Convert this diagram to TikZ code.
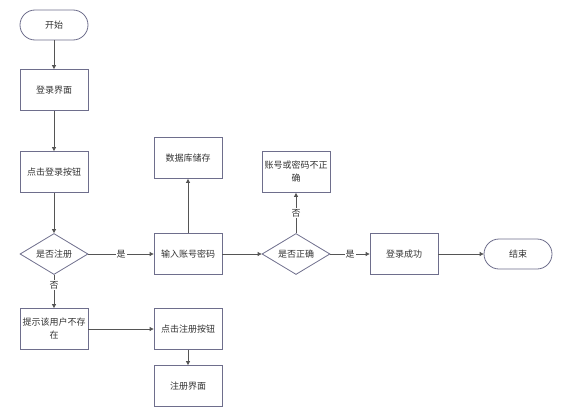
\documentclass[tikz,border=0pt]{standalone}
\usepackage{fontspec}
\newfontfamily\cjk{Noto Sans CJK SC}
\usetikzlibrary{shapes.geometric,arrows.meta}
\definecolor{bordc}{HTML}{6E6E8C}
\definecolor{linec}{HTML}{555555}
\definecolor{txtc}{HTML}{333333}
\begin{document}
\begin{tikzpicture}[x=1pt,y=-1pt,
  every node/.style={font=\cjk\fontsize{9}{13}\selectfont, text=txtc},
  proc/.style={draw=bordc, line width=0.8pt, fill=white, minimum width=68pt, minimum height=41pt, align=center, inner sep=1pt},
  term/.style={draw=bordc, line width=0.8pt, fill=white, rounded corners=15pt, minimum width=68pt, minimum height=30pt},
  dec/.style={draw=bordc, line width=0.8pt, fill=white, diamond, aspect=1.66, minimum width=68pt, minimum height=41pt, inner sep=0pt},
  conn/.style={draw=linec, line width=0.8pt, -{Triangle[length=4pt,width=4pt]}},
  lbl/.style={fill=white, inner sep=1pt}]
\useasboundingbox (0,0) rectangle (564,415);
\node[term] (start) at (54,25) {开始};
\node[proc] (login) at (54,90) {登录界面};
\node[proc] (click) at (54,172) {点击登录按钮};
\node[dec] (isreg) at (54,254) {是否注册};
\node[proc] (nouser) at (54,329) {提示该用户不存\\在};
\node[proc] (input) at (188,254) {输入账号密码};
\node[proc] (db) at (188,158) {数据库储存};
\node[proc] (regbtn) at (188,329) {点击注册按钮};
\node[proc] (regui) at (188,386) {注册界面};
\node[dec] (ok) at (296,254) {是否正确};
\node[proc] (wrong) at (296,172) {账号或密码不正\\确};
\node[proc] (succ) at (404,254) {登录成功};
\node[term] (end) at (518,254) {结束};
\draw[conn] (start) -- (login);
\draw[conn] (login) -- (click);
\draw[conn] (click) -- (isreg);
\draw[conn] (isreg) -- node[lbl]{是} (input);
\draw[conn] (isreg) -- node[lbl, pos=0.3]{否} (nouser);
\draw[conn] (nouser) -- (regbtn);
\draw[conn] (regbtn) -- (regui);
\draw[conn] (input) -- (db);
\draw[conn] (input) -- (ok);
\draw[conn] (ok) -- node[lbl]{否} (wrong);
\draw[conn] (ok) -- node[lbl]{是} (succ);
\draw[conn] (succ) -- (end);
\end{tikzpicture}
\end{document}
